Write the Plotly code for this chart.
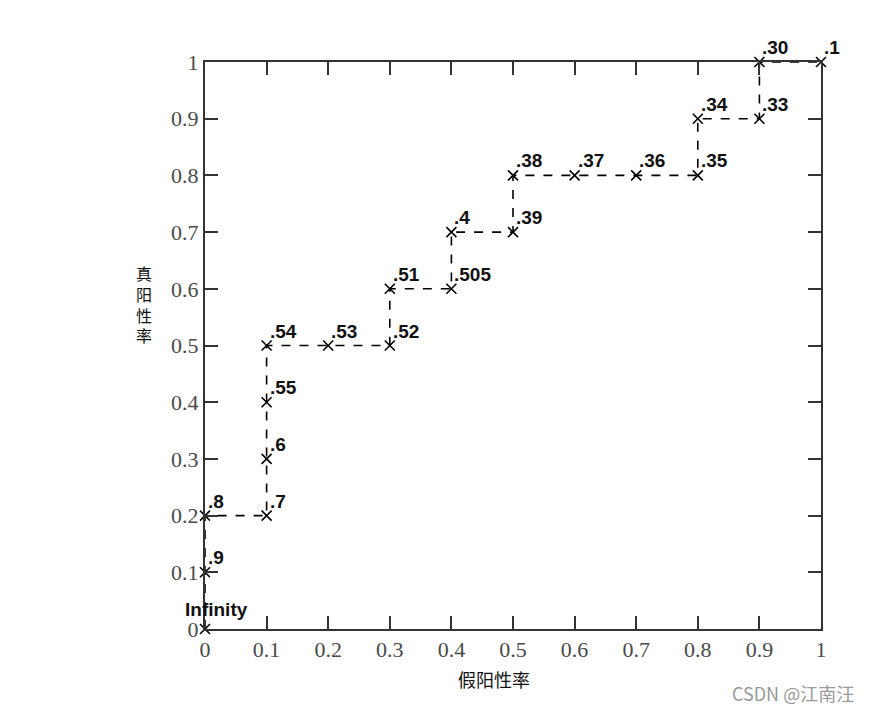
import plotly.graph_objects as go

fpr = [0, 0, 0, 0.1, 0.1, 0.1, 0.1, 0.2, 0.3, 0.3, 0.4, 0.4, 0.5, 0.5, 0.6, 0.7, 0.8, 0.8, 0.9, 0.9, 1.0]
tpr = [0, 0.1, 0.2, 0.2, 0.3, 0.4, 0.5, 0.5, 0.5, 0.6, 0.6, 0.7, 0.7, 0.8, 0.8, 0.8, 0.8, 0.9, 0.9, 1.0, 1.0]
thresholds = ["Infinity", ".9", ".8", ".7", ".6", ".55", ".54", ".53", ".52", ".51", ".505", ".4",
              ".39", ".38", ".37", ".36", ".35", ".34", ".33", ".30", ".1"]
tick_vals = [0, 0.1, 0.2, 0.3, 0.4, 0.5, 0.6, 0.7, 0.8, 0.9, 1]
tick_text = ["0", "0.1", "0.2", "0.3", "0.4", "0.5", "0.6", "0.7", "0.8", "0.9", "1"]
x_title = "假阳性率"
y_title = "真阳性率"
watermark = "CSDN @江南汪"

fig = go.Figure()
fig.add_trace(go.Scatter(
    x=fpr, y=tpr, mode="lines+markers",
    line=dict(color="black", width=1.6, dash="dash"),
    marker=dict(symbol="x-thin", size=10, line=dict(color="black", width=1.6), color="black"),
    cliponaxis=False, showlegend=False,
))

label_font = dict(family="Liberation Sans", size=19, color="#111")
for xv, yv, t in zip(fpr, tpr, thresholds):
    if t == "Infinity":
        fig.add_annotation(x=xv, y=yv, text="<b>%s</b>" % t, showarrow=False,
                           xanchor="left", yanchor="bottom", xshift=-22, yshift=7,
                           font=label_font)
    else:
        fig.add_annotation(x=xv, y=yv, text="<b>%s</b>" % t, showarrow=False,
                           xanchor="left", yanchor="bottom", xshift=1, yshift=2,
                           font=label_font)

axis_common = dict(
    range=[0, 1], tickvals=tick_vals, ticktext=tick_text,
    ticks="inside", ticklen=13, tickwidth=1.5, tickcolor="#333",
    showline=True, linecolor="#333", linewidth=2, mirror="ticks",
    showgrid=False, zeroline=False,
    tickfont=dict(family="Liberation Serif", size=22, color="#4a4a4a"),
)
fig.update_xaxes(**axis_common)
fig.update_yaxes(**axis_common)

fig.add_annotation(text=x_title, xref="paper", yref="paper", x=0.469, y=-0.115,
                   showarrow=False, font=dict(family="Noto Sans CJK SC", size=18, color="#111"))
fig.add_annotation(text="<br>".join(list(y_title)), xref="paper", yref="paper",
                   x=-0.115, y=0.574, yanchor="middle",
                   showarrow=False, font=dict(family="Noto Sans CJK SC", size=16, color="#111"))
fig.add_annotation(text=watermark, xref="paper", yref="paper", x=1.057, y=-0.139,
                   xanchor="right", showarrow=False,
                   font=dict(family="Noto Sans CJK SC", size=18, color="#999"))

fig.update_layout(
    width=871, height=714,
    margin=dict(l=197, r=58, t=54, b=93),
    paper_bgcolor="white", plot_bgcolor="white",
)
fig.write_html("out.html")
